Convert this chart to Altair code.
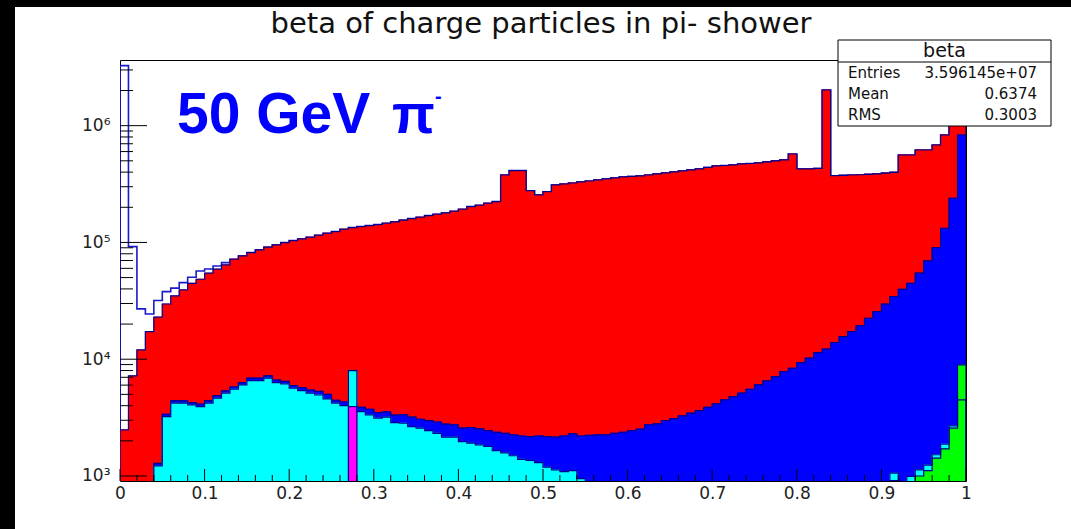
import altair as alt
import pandas as pd

# ---------------- data ----------------
FLOOR = 906
YMAX = 3.65e6
bin_width = 0.01
bin_lo = [round(i * bin_width, 2) for i in range(100)]

total = [3270000, 92000, 27000, 24400, 31800, 37900, 40600, 45300, 50400, 57000,
         59300, 62900, 67200, 71800, 76600, 81800, 86300, 91000, 95200, 99600,
         103600, 107100, 110800, 115200, 119900, 123700, 129700, 133900, 136600, 139300,
         142100, 146000, 149900, 155000, 160000, 164400, 169600, 174300, 178900, 185000,
         192400, 202600, 208100, 216600, 223500, 378000, 411700, 411700, 277300, 255000,
         272000, 310600, 316700, 323000, 329500, 336000, 342700, 349600, 356600, 363700,
         367300, 371000, 378000, 385800, 393500, 401400, 409400, 417700, 426000, 438600,
         451900, 456000, 460900, 470200, 474000, 479600, 489200, 499000, 509000, 572000,
         426000, 426000, 430000, 2020000, 373000, 375000, 378000, 380000, 383000, 387000,
         392000, 398000, 561000, 561000, 619000, 619000, 683000, 832000, 1150000, 1500000]

red_low = [2480, 7190, 12000, 17200, 22900, 29700, 34800, 39200, 44700, 48400,
           54500, 59000, 64200]
red = red_low + total[13:]

blue = [None, None, None, None, 1280, 3380, 4400, 4400, 4250, 4120,
        4400, 4850, 5350, 5780, 6300, 6880, 6880, 7200, 6620, 6450,
        5950, 5700, 5450, 5300, 5000, 4450, 4300, 4200, 3880, 3730,
        3490, 3540, 3320, 3340, 3190, 3060, 2980, 2900, 2780, 2740,
        2570, 2600, 2530, 2450, 2370, 2320, 2250, 2200, 2170, 2200,
        2170, 2150, 2200, 2290, 2200, 2230, 2250, 2250, 2320, 2370,
        2450, 2520, 2740, 2790, 2980, 3100, 3270, 3450, 3630, 3880,
        4140, 4480, 4790, 5120, 5530, 6020, 6520, 7090, 7830, 8370,
        9350, 10200, 11400, 12200, 13900, 15600, 17200, 19300, 22400, 25600,
        29600, 34400, 39700, 44700, 54500, 69500, 90200, 132000, 239000, 832000]

cyan = [None, None, None, None, 1220, 3230, 4200, 4200, 4060, 3930,
        4200, 4630, 5120, 5530, 6020, 6560, 6560, 6880, 6310, 6150,
        5650, 5390, 5120, 4940, 4570, 4200, 4000, 7980, 3560, 3340,
        3130, 3190, 2860, 2830, 2650, 2570, 2450, 2320, 2150, 2150,
        1970, 1910, 1850, 1790, 1650, 1580, 1490, 1390, 1360, 1300,
        1190, 1130, 1090, 1110, 950, None, None, None, None, None,
        None, None, None, None, None, None, None, None, None, None,
        None, None, None, None, None, None, None, None, None, None,
        None, None, None, None, None, None, None, None, None, None,
        None, 1057, None, 990, 1130, 1240, 1520, 1870, 2690, 4480]

magenta = [None] * 27 + [3930] + [None] * 72

green = [None] * 91 + [915, None, None, 1000, 1110, 1420, 1710, 2570, 8930]

title_text = "beta of charge particles in pi- shower"
stats_name = "beta"
stats_labels = ["Entries", "Mean", "RMS"]
stats_values = ["3.596145e+07", "0.6374", "0.3003"]

x_label_values = [0, 0.1, 0.2, 0.3, 0.4, 0.5, 0.6, 0.7, 0.8, 0.9, 1.0]
y_label_values = [1000, 10000, 100000, 1000000]
y_label_text = {1000: "10³", 10000: "10⁴", 100000: "10⁵", 1000000: "10⁶"}

# ---------------- helpers ----------------
W, H = 846, 421


def bars_frame(values):
    rows = [(bin_lo[i], round(bin_lo[i] + bin_width, 2), v, FLOOR)
            for i, v in enumerate(values) if v is not None]
    return pd.DataFrame(rows, columns=["x", "x2", "v", "floor"])


def step_frame(values):
    """Histogram step contour (ROOT style) built from the bin values."""
    rows = []
    seg = 0
    i = 0
    n = len(values)
    while i < n:
        if values[i] is None:
            i += 1
            continue
        j = i
        rows.append((bin_lo[i], FLOOR, seg))
        while j < n and values[j] is not None:
            lo = bin_lo[j]
            hi = round(lo + bin_width, 2)
            rows.append((lo, values[j], seg))
            rows.append((hi, values[j], seg))
            j += 1
        rows.append((round(bin_lo[j - 1] + bin_width, 2), FLOOR, seg))
        seg += 1
        i = j
    df = pd.DataFrame(rows, columns=["x", "v", "seg"])
    df["idx"] = range(len(df))
    return df


xscale = alt.Scale(domain=[0, 1], nice=False, zero=False)
yscale = alt.Scale(type="log", domain=[FLOOR, YMAX], nice=False)

label_expr = " : ".join(
    f"datum.value == {k} ? '{v}'" for k, v in y_label_text.items()) + " : ''"

XENC = alt.X("x:Q", scale=xscale, title=None,
             axis=alt.Axis(values=x_label_values, ticks=False, domain=False, grid=False,
                           format="~g", labelFont="DejaVu Sans", labelFontSize=17,
                           labelColor="#222", labelPadding=4, labelFlush=False,
                           labelOverlap=False))
YENC = alt.Y("v:Q", scale=yscale, title=None,
             axis=alt.Axis(values=y_label_values, ticks=False, domain=False, grid=False,
                           labelExpr=label_expr, labelFont="DejaVu Sans", labelFontSize=17,
                           labelColor="#222", labelPadding=10))


def fill_layers(values, color):
    bars = alt.Chart(bars_frame(values)).mark_rect(
        color=color, stroke=color, strokeWidth=0.6, clip=True).encode(
        x=XENC, x2="x2:Q", y=YENC, y2="floor:Q")
    poly = alt.Chart(step_frame(values)).mark_line(
        fill=color, stroke=color, strokeWidth=0.5, clip=True, interpolate="linear").encode(
        x=XENC, y=YENC, detail="seg:N", order="idx:Q")
    return [bars, poly]


def line_layer(values, color, width=1.2):
    return alt.Chart(step_frame(values)).mark_line(
        color=color, strokeWidth=width, clip=True, interpolate="linear").encode(
        x=XENC, y=YENC, detail="seg:N", order="idx:Q")


LINE = "#000090"

layers = [line_layer(total, "#1a1ac8", 1.6)]
layers += fill_layers(red, "#ff0000") + [line_layer(red, LINE)]
layers += fill_layers(blue, "#0000ff") + [line_layer(blue, LINE)]
layers += fill_layers(cyan, "#00ffff")
layers += fill_layers(magenta, "#ff00ff") + [line_layer(magenta, LINE)]
layers += fill_layers(green, "#00ff00") + [line_layer(green, LINE)]
layers += [line_layer(cyan, LINE)]

# ---- inward ticks (ROOT style) ----
x_major = [round(0.1 * k, 2) for k in range(11)]
x_minor = [round(0.02 * k, 2) for k in range(51) if k % 5 != 0]
y_major = [1000, 10000, 100000, 1000000]
y_minor = [m * 10 ** d for d in range(3, 7) for m in range(2, 10) if m * 10 ** d < YMAX]

layers.append(alt.Chart(pd.DataFrame({"x": x_major})).mark_rule(color="black", strokeWidth=1).encode(
    x=XENC, y=alt.value(H), y2=alt.value(H - 12)))
layers.append(alt.Chart(pd.DataFrame({"x": x_minor})).mark_rule(color="black", strokeWidth=1).encode(
    x=XENC, y=alt.value(H), y2=alt.value(H - 6)))
layers.append(alt.Chart(pd.DataFrame({"v": y_major})).mark_rule(color="black", strokeWidth=1).encode(
    y=YENC, x=alt.value(0), x2=alt.value(27)))
layers.append(alt.Chart(pd.DataFrame({"v": y_minor})).mark_rule(color="black", strokeWidth=1).encode(
    y=YENC, x=alt.value(0), x2=alt.value(13)))

one = pd.DataFrame({"a": [0]})

# ---- stats box ----
BX0, BX1, BY0, BY1 = 718, 931, -20, 66
layers.append(alt.Chart(one).mark_rect(fill="white", stroke="black", strokeWidth=1).encode(
    x=alt.value(BX0), x2=alt.value(BX1), y=alt.value(BY0), y2=alt.value(BY1)))
layers.append(alt.Chart(one).mark_rule(color="black", strokeWidth=1).encode(
    x=alt.value(BX0), x2=alt.value(BX1), y=alt.value(2)))
layers.append(alt.Chart(pd.DataFrame({"t": [stats_name]})).mark_text(
    font="DejaVu Sans", fontSize=19, color="#111", align="center", baseline="alphabetic").encode(
    x=alt.value((BX0 + BX1) / 2), y=alt.value(-3), text="t:N"))
for k, (lab, val) in enumerate(zip(stats_labels, stats_values)):
    yy = 18 + 21 * k
    layers.append(alt.Chart(pd.DataFrame({"t": [lab]})).mark_text(
        font="DejaVu Sans", fontSize=15, color="#111", align="left", baseline="alphabetic").encode(
        x=alt.value(BX0 + 10), y=alt.value(yy), text="t:N"))
    layers.append(alt.Chart(pd.DataFrame({"t": [val]})).mark_text(
        font="DejaVu Sans", fontSize=15, color="#111", align="right", baseline="alphabetic").encode(
        x=alt.value(BX1 - 14), y=alt.value(yy), text="t:N"))

# ---- title ----
layers.append(alt.Chart(pd.DataFrame({"t": [title_text]})).mark_text(
    font="DejaVu Sans", fontSize=29, color="#111", align="center", baseline="alphabetic").encode(
    x=alt.value(W / 2 - 2), y=alt.value(-27), text="t:N"))

# ---- "50 GeV pi-" annotation ----
layers.append(alt.Chart(pd.DataFrame({"t": ["50 GeV"]})).mark_text(
    font="Liberation Sans", fontSize=57, fontWeight="bold", color="#0000ff",
    align="left", baseline="alphabetic").encode(x=alt.value(57), y=alt.value(73), text="t:N"))
layers.append(alt.Chart(pd.DataFrame({"t": ["π"]})).mark_text(
    font="Liberation Sans", fontSize=56, fontWeight="bold", color="#0000ff",
    align="left", baseline="alphabetic").encode(x=alt.value(272), y=alt.value(73), text="t:N"))
layers.append(alt.Chart(pd.DataFrame({"t": ["-"]})).mark_text(
    font="Liberation Sans", fontSize=20, fontWeight="bold", color="#0000ff",
    align="left", baseline="alphabetic").encode(x=alt.value(315), y=alt.value(43), text="t:N"))

# ---- black picture border (left and top) ----
layers.append(alt.Chart(one).mark_rect(color="black").encode(
    x=alt.value(-120), x2=alt.value(-105), y=alt.value(-60), y2=alt.value(H + 48)))
layers.append(alt.Chart(one).mark_rect(color="black").encode(
    x=alt.value(-120), x2=alt.value(W + 105), y=alt.value(-60), y2=alt.value(-53)))

chart = alt.layer(*layers).properties(
    width=W, height=H,
    autosize=alt.AutoSizeParams(type="none"),
    padding={"left": 120, "top": 60, "right": 105, "bottom": 48},
    background="white",
).configure_view(stroke="black", strokeWidth=1)

chart.save("out.html", embed_options={"renderer": "svg", "actions": False})
